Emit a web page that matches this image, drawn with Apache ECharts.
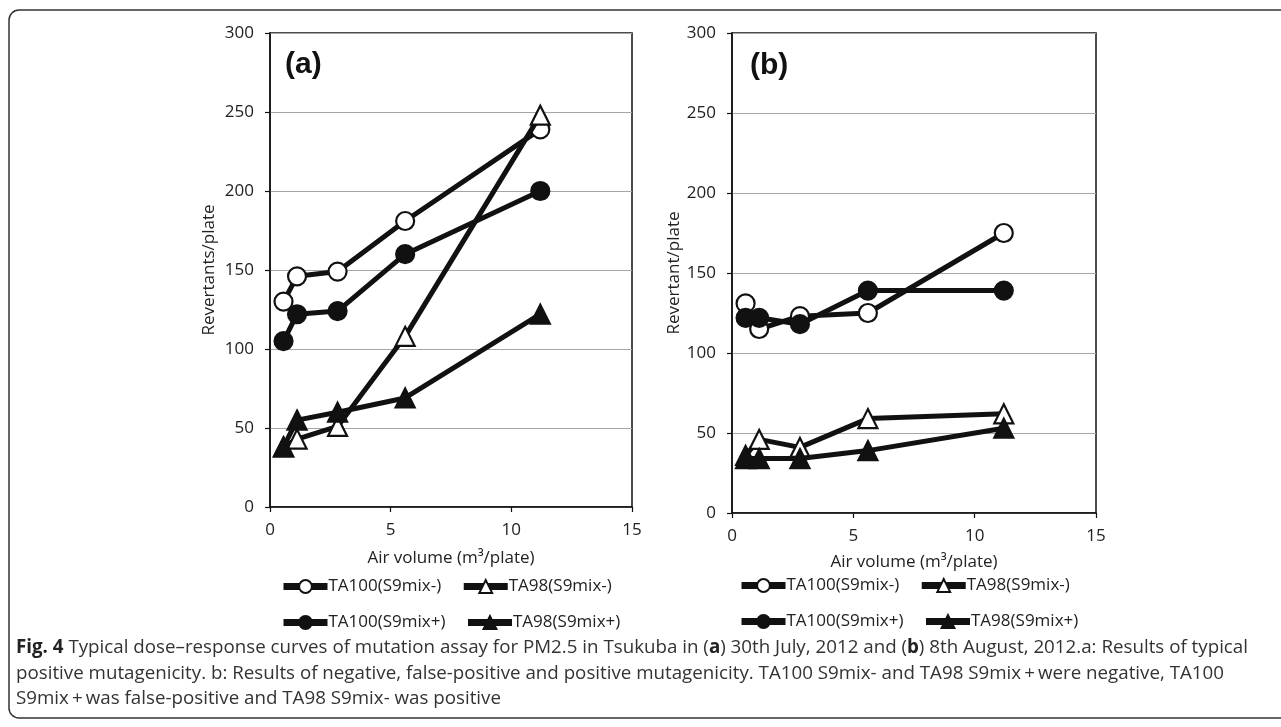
<!DOCTYPE html>
<html><head><meta charset="utf-8">
<script src="https://cdn.jsdelivr.net/npm/echarts@6/dist/echarts.min.js"></script>
<style>html,body{margin:0;padding:0;background:#fff}#c{width:1281px;height:727px}</style>
</head><body><div id="c"></div>
<script>
// ---- data ----
const airVolume = [0.56, 1.12, 2.8, 5.6, 11.2];
const seriesNames = ['TA100(S9mix-)', 'TA98(S9mix-)', 'TA100(S9mix+)', 'TA98(S9mix+)'];
const panelA_TA100_minus = [130, 146, 149, 181, 239];
const panelA_TA98_minus  = [38, 43, 51, 108, 248];
const panelA_TA100_plus  = [105, 122, 124, 160, 200];
const panelA_TA98_plus   = [38, 55, 60, 69, 122];
const panelB_TA100_minus = [131, 115, 123, 125, 175];
const panelB_TA98_minus  = [36, 46, 41, 59, 62];
const panelB_TA100_plus  = [122, 122, 118, 139, 139];
const panelB_TA98_plus   = [34, 34, 34, 39, 53];
const xTickMax = 15, xTickStep = 5;
const yTickMax = 300, yTickStep = 50;
const xAxisTitle = 'Air volume (m\u00B3/plate)';
const yAxisTitles = ['Revertants/plate', 'Revertant/plate'];
const panelLabels = ['(a)', '(b)'];
const captionLines = [
  '{b|Fig. 4} Typical dose\u2013response curves of mutation assay for PM2.5 in Tsukuba in ({b|a}) 30th July, 2012 and ({b|b}) 8th August, 2012.a: Results of typical',
  'positive mutagenicity. b: Results of negative, false-positive and positive mutagenicity. TA100 S9mix- and TA98 S9mix\u2009+\u2009were negative, TA100',
  'S9mix\u2009+\u2009was false-positive and TA98 S9mix- was positive'
];

// ---- build ----
const FONT = '"Open Sans", "Noto Sans", sans-serif';
const TXT = '#222';
const FS = 17;
const pairs = (ys) => airVolume.map((x, i) => [x, ys[i]]);
const styles = [
  { symbol: 'circle', fill: '#fff' },
  { symbol: 'triangle', fill: '#fff' },
  { symbol: 'circle', fill: '#111' },
  { symbol: 'triangle', fill: '#111' }
];
const panels = [
  [panelA_TA100_minus, panelA_TA98_minus, panelA_TA100_plus, panelA_TA98_plus],
  [panelB_TA100_minus, panelB_TA98_minus, panelB_TA100_plus, panelB_TA98_plus]
];
const series = [];
panels.forEach((p, pi) => {
  p.forEach((ys, si) => {
    series.push({
      name: seriesNames[si], type: 'line', xAxisIndex: pi, yAxisIndex: pi,
      data: pairs(ys), symbol: styles[si].symbol,
      symbolSize: styles[si].symbol === 'circle' ? 18 : 19,
      lineStyle: { color: '#111', width: 5 },
      itemStyle: { color: styles[si].fill, borderColor: '#111', borderWidth: 2.2 },
      emphasis: { disabled: true }, animation: false, z: 2 + si
    });
  });
});

const grids = [
  { left: 270, top: 33, width: 362, height: 474 },
  { left: 732, top: 33, width: 364, height: 480 }
];
const xAxes = grids.map((g, i) => ({
  type: 'value', gridIndex: i, min: 0, max: xTickMax, interval: xTickStep,
  axisLine: { lineStyle: { color: '#111', width: 1.5 } },
  axisTick: { show: true, length: 5, lineStyle: { color: '#111', width: 1.2 } },
  splitLine: { show: false },
  axisLabel: { fontSize: FS, color: TXT, fontFamily: FONT, margin: 15 },
  name: xAxisTitle, nameLocation: 'middle', nameGap: i === 0 ? 43 : 41,
  nameTextStyle: { fontSize: FS, color: TXT, fontFamily: FONT }
}));
const yAxes = grids.map((g, i) => ({
  type: 'value', gridIndex: i, min: 0, max: yTickMax, interval: yTickStep,
  axisLine: { show: true, lineStyle: { color: '#111', width: 1.5 } },
  axisTick: { show: true, length: 5, lineStyle: { color: '#111', width: 1.2 } },
  splitLine: { show: true, lineStyle: { color: '#a6a6a6', width: 1 } },
  axisLabel: { fontSize: FS, color: TXT, fontFamily: FONT, margin: 16 },
  name: yAxisTitles[i], nameLocation: 'middle', nameRotate: 90, nameGap: i === 0 ? 52 : 38,
  nameTextStyle: { fontSize: FS, color: TXT, fontFamily: FONT }
}));

const legends = [
  { left: 280, top: 578 },
  { left: 738, top: 577 }
].map(pos => ({
  left: pos.left, top: pos.top, width: 380, orient: 'horizontal', padding: 0,
  data: seriesNames, itemWidth: 44, itemHeight: 16, itemGap: 19,
  selectedMode: false,
  lineStyle: { width: 7, color: '#111' },
  textStyle: { fontSize: FS, color: TXT, fontFamily: FONT, padding: [0, 0, 0, -4] }
}));

// caption scaling to mimic the narrow caption face
const cv = document.createElement('canvas').getContext('2d');
function measure(line, size) {
  let total = 0;
  const re = /\{b\|([^}]*)\}|([^{]+)/g; let m;
  while ((m = re.exec(line))) {
    if (m[1] !== undefined) { cv.font = 'bold ' + size + 'px ' + FONT; total += cv.measureText(m[1]).width; }
    else { cv.font = size + 'px ' + FONT; total += cv.measureText(m[2]).width; }
  }
  return total;
}
const CAP_SIZE = 19;
const s1 = 1232 / measure(captionLines[0], CAP_SIZE);
const s2 = 1208 / measure(captionLines[1], CAP_SIZE);
const capScale = (s1 + s2) / 2;
const captionYs = [648, 674, 699];
const captionGraphics = captionLines.map((t, i) => ({
  type: 'text', x: 16, y: captionYs[i], scaleX: i === 0 ? s1 : (i === 1 ? s2 : capScale),
  style: {
    text: t, fill: '#333', font: CAP_SIZE + 'px ' + FONT, verticalAlign: 'middle', align: 'left',
    rich: { b: { fontWeight: 'bold', fill: '#222', fontSize: CAP_SIZE, fontFamily: FONT } }
  }
}));

const chart = echarts.init(document.getElementById('c'), null, { renderer: 'canvas' });
chart.setOption({
  backgroundColor: '#fff',
  animation: false,
  grid: grids.map(g => Object.assign({ show: true, borderColor: '#111', borderWidth: 1.5, backgroundColor: 'transparent' }, g)),
  xAxis: xAxes, yAxis: yAxes, legend: legends, series: series,
  graphic: [
    { type: 'rect', shape: { x: 9, y: 10, width: 1300, height: 708, r: 10 },
      style: { fill: 'none', stroke: '#333', lineWidth: 1.5 }, silent: true },
    { type: 'text', x: 285, y: 65, style: { text: panelLabels[0], font: 'bold 30px "Liberation Sans", Arial, sans-serif', fill: '#111', verticalAlign: 'middle' } },
    { type: 'text', x: 750, y: 66, style: { text: panelLabels[1], font: 'bold 30px "Liberation Sans", Arial, sans-serif', fill: '#111', verticalAlign: 'middle' } }
  ].concat(captionGraphics)
});
</script></body></html>
